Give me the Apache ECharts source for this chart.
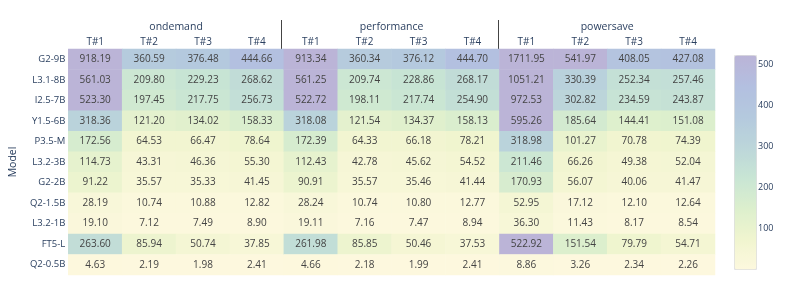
<!DOCTYPE html>
<html>
<head>
<meta charset="utf-8">
<script src="https://cdn.jsdelivr.net/npm/echarts@6/dist/echarts.min.js"></script>
<style>
html,body{margin:0;padding:0;background:#fff;}
#chart{width:793px;height:288px;}
</style>
</head>
<body>
<div id="chart"></div>
<script>
const models = ['G2-9B','L3.1-8B','I2.5-7B','Y1.5-6B','P3.5-M','L3.2-3B','G2-2B','Q2-1.5B','L3.2-1B','FT5-L','Q2-0.5B'];
const governors = ['ondemand','performance','powersave'];
const trials = ['T#1','T#2','T#3','T#4'];
const colorbarTicks = [100, 200, 300, 400, 500];
const colorMin = 1.98;
const colorMax = 523.30;

// rows = models, columns = T#1..T#4
const ondemand = [
  [918.19, 360.59, 376.48, 444.66],
  [561.03, 209.80, 229.23, 268.62],
  [523.30, 197.45, 217.75, 256.73],
  [318.36, 121.20, 134.02, 158.33],
  [172.56, 64.53, 66.47, 78.64],
  [114.73, 43.31, 46.36, 55.30],
  [91.22, 35.57, 35.33, 41.45],
  [28.19, 10.74, 10.88, 12.82],
  [19.10, 7.12, 7.49, 8.90],
  [263.60, 85.94, 50.74, 37.85],
  [4.63, 2.19, 1.98, 2.41]
];
const performance = [
  [913.34, 360.34, 376.12, 444.70],
  [561.25, 209.74, 228.86, 268.17],
  [522.72, 198.11, 217.74, 254.90],
  [318.08, 121.54, 134.37, 158.13],
  [172.39, 64.33, 66.18, 78.21],
  [112.43, 42.78, 45.62, 54.52],
  [90.91, 35.57, 35.46, 41.44],
  [28.24, 10.74, 10.80, 12.77],
  [19.11, 7.16, 7.47, 8.94],
  [261.98, 85.85, 50.46, 37.53],
  [4.66, 2.18, 1.99, 2.41]
];
const powersave = [
  [1711.95, 541.97, 408.05, 427.08],
  [1051.21, 330.39, 252.34, 257.46],
  [972.53, 302.82, 234.59, 243.87],
  [595.26, 185.64, 144.41, 151.08],
  [318.98, 101.27, 70.78, 74.39],
  [211.46, 66.26, 49.38, 52.04],
  [170.93, 56.07, 40.06, 41.47],
  [52.95, 17.12, 12.10, 12.64],
  [36.30, 11.43, 8.17, 8.54],
  [522.92, 151.54, 79.79, 54.71],
  [8.86, 3.26, 2.34, 2.26]
];

const groups = [ondemand, performance, powersave];
const columns = [];
governors.forEach(() => trials.forEach(t => columns.push(t)));
const cells = [];
groups.forEach((g, gi) => {
  g.forEach((row, ri) => {
    row.forEach((v, ti) => {
      cells.push([gi * 4 + ti, ri, v]);
    });
  });
});

const FONT = 'Open Sans';
const AXIS_COLOR = '#2a3f5f';

const chart = echarts.init(document.getElementById('chart'), null, {renderer: 'canvas'});
chart.setOption({
  animation: false,
  textStyle: {fontFamily: FONT},
  grid: [
    {left: 65, right: 78, top: 49, bottom: 13},
    {left: 734, width: 22, top: 55, height: 214},
    {left: 65, right: 78, top: 20, height: 29}
  ],
  xAxis: [
    {
      type: 'category', gridIndex: 0, data: columns, position: 'top',
      axisLine: {show: false}, axisTick: {show: false},
      axisLabel: {interval: 0, margin: 2, fontSize: 10, color: AXIS_COLOR, fontFamily: FONT},
      splitLine: {show: false}
    },
    {
      type: 'category', gridIndex: 0, data: governors, position: 'top', offset: 13,
      axisLine: {show: false}, axisTick: {show: false},
      axisLabel: {interval: 0, margin: 3, fontSize: 10.5, color: AXIS_COLOR, fontFamily: FONT},
      splitLine: {show: false}
    },
    {
      type: 'value', gridIndex: 1, show: false, min: 0, max: 1
    },
    {
      type: 'category', gridIndex: 2, data: governors,
      axisLine: {show: false}, axisTick: {show: false}, axisLabel: {show: false},
      splitLine: {show: true, showMinLine: false, showMaxLine: false, interval: 0,
        lineStyle: {color: '#444', width: 1}}
    }
  ],
  yAxis: [
    {
      type: 'category', gridIndex: 0, data: models, inverse: true,
      axisLine: {show: false}, axisTick: {show: false},
      axisLabel: {interval: 0, margin: 3, fontSize: 9.5, color: AXIS_COLOR, fontFamily: FONT},
      name: 'Model', nameLocation: 'middle', nameRotate: 90, nameGap: 42,
      nameTextStyle: {fontSize: 10.5, color: AXIS_COLOR, fontFamily: FONT}
    },
    {
      type: 'value', gridIndex: 1, position: 'right', min: colorMin, max: colorMax,
      splitNumber: 5,
      axisLine: {show: false}, axisTick: {show: false}, splitLine: {show: false},
      axisLabel: {
        margin: 2, fontSize: 9, color: AXIS_COLOR, fontFamily: FONT,
        showMinLabel: false, showMaxLabel: false,
        formatter: v => (colorbarTicks.indexOf(Math.round(v)) >= 0 ? String(Math.round(v)) : '')
      }
    },
    {
      type: 'value', gridIndex: 2, show: false
    }
  ],
  visualMap: {
    type: 'continuous',
    seriesIndex: 0,
    min: colorMin, max: colorMax,
    calculable: false,
    orient: 'vertical',
    left: 734, top: 55,
    itemWidth: 22, itemHeight: 214,
    padding: 0,
    borderColor: '#e2e2e2', borderWidth: 1,
    text: null,
    hoverLink: false,
    inRange: {
      color: ['#fdf8de', '#f0f5cf', '#dcefcd', '#c8e5d4', '#bcd6da', '#b4c9de', '#b3bfe0', '#bbb4d7']
    }
  },
  series: [{
    type: 'heatmap',
    xAxisIndex: 0, yAxisIndex: 0,
    data: cells,
    label: {
      show: true, fontSize: 10, color: '#444', fontFamily: FONT,
      formatter: p => p.value[2].toFixed(2)
    },
    emphasis: {disabled: true},
    itemStyle: {borderWidth: 0}
  }]
});
</script>
</body>
</html>
